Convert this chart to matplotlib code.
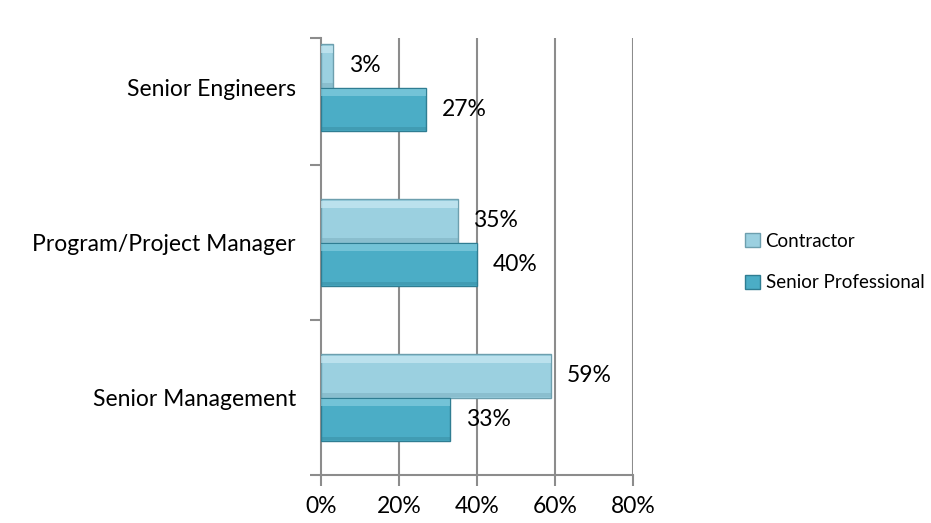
import matplotlib.pyplot as plt
import numpy as np
from matplotlib.patches import Patch

# categories listed bottom to top
categories = ['Senior Management', 'Program/Project Manager', 'Senior Engineers']
contractor = [59, 35, 3]
senior_prof = [33, 40, 27]
series_names = ['Contractor', 'Senior Professional']
xticks = [0, 20, 40, 60, 80]

plt.rcParams['font.family'] = ['Lato', 'DejaVu Sans']
fs = 16.5

fig = plt.figure(figsize=(9.31, 5.23), dpi=100)
ax = fig.add_axes([321/931, 1-475/523, 312/931, 437/523])

y = np.arange(len(categories))
h = 0.28
grid_col = '#8c8c8c'

def bevel_bars(ypos, vals, face, light, dark):
    # plain bar plus a light strip on top and a dark strip at the bottom
    ax.barh(ypos, vals, height=h, color=face, edgecolor=dark, linewidth=1.0, zorder=3)
    ax.barh(ypos + h*0.38, vals, height=h*0.16, color=light, linewidth=0, zorder=4, alpha=0.6)
    ax.barh(ypos - h*0.44, vals, height=h*0.08, color=dark, linewidth=0, zorder=4, alpha=0.35)

bevel_bars(y + h/2, contractor, '#9bd0e0', '#d2eef6', '#6d9fae')
bevel_bars(y - h/2, senior_prof, '#4badc6', '#8fd2e3', '#2f7d92')

# value labels to the right of each bar
for yy, v in zip(y + h/2, contractor):
    ax.annotate(f'{v}%', (v, yy), xytext=(11.5, 0), textcoords='offset points',
                va='center', ha='left', fontsize=fs, zorder=5)
for yy, v in zip(y - h/2, senior_prof):
    ax.annotate(f'{v}%', (v, yy), xytext=(11.5, 0), textcoords='offset points',
                va='center', ha='left', fontsize=fs, zorder=5)

ax.set_xlim(0, 80)
ax.set_ylim(-0.5, 2.32)
ax.set_xticks(xticks)
ax.set_xticklabels([f'{t}%' for t in xticks], fontsize=fs)
ax.set_yticks(y)
ax.set_yticklabels(categories, fontsize=fs)
ax.tick_params(axis='y', length=0, pad=18)
ax.set_yticks([-0.5, 0.5, 1.5, 2.32], minor=True)
ax.tick_params(axis='y', which='minor', length=8, width=1.5, color=grid_col)
ax.tick_params(axis='x', length=8, width=1.5, color=grid_col, pad=7)

for t in xticks[1:]:
    ax.axvline(t, color=grid_col, linewidth=1.5, zorder=1)
for s in ['top', 'right']:
    ax.spines[s].set_visible(False)
for s in ['left', 'bottom']:
    ax.spines[s].set_color(grid_col)
    ax.spines[s].set_linewidth(1.5)

handles = [Patch(facecolor='#9bd0e0', edgecolor='#6d9fae'),
           Patch(facecolor='#4badc6', edgecolor='#2f7d92')]
fig.legend(handles, series_names, loc='center left', bbox_to_anchor=(745/931, 1-262/523),
           frameon=False, fontsize=13.5, handlelength=0.8, handleheight=0.8,
           handletextpad=0.3, labelspacing=1.3, borderpad=0, borderaxespad=0)

plt.savefig('out.png', dpi=100)
